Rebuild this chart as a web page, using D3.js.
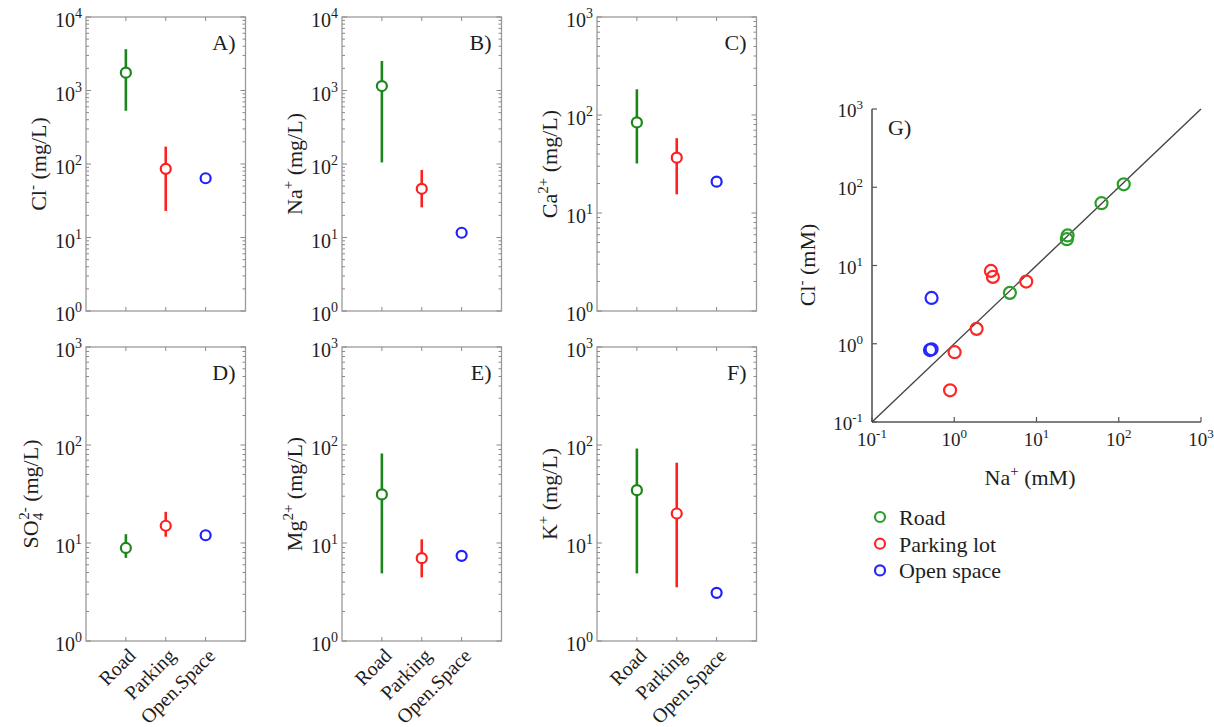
<!DOCTYPE html>
<html>
<head>
<meta charset="utf-8">
<script src="https://cdn.jsdelivr.net/npm/d3@7"></script>
<style>
  body { margin: 0; background: #fff; }
  text { font-family: "Liberation Serif", "Times New Roman", serif; fill: #1e1e1e; }
</style>
</head>
<body>
<svg id="fig" width="1214" height="727"></svg>
<script>
// Site types on the x axis of panels A–F
const categories = ["Road", "Parking", "Open.Space"];

// Concentrations in mg/L per site type: [centre, lower, upper]
const chloride  = [[1750, 530, 3650], [86, 23, 172], [64, null, null]];
const sodium    = [[1150, 105, 2520], [46, 25.7, 83], [11.6, null, null]];
const calcium   = [[84, 32, 183], [36.7, 15.5, 58], [20.9, null, null]];
const sulfate   = [[8.9, 7.05, 12.3], [15, 11.6, 20.8], [12, null, null]];
const magnesium = [[31.3, 4.9, 82], [7.0, 4.46, 10.9], [7.4, null, null]];
const potassium = [[34.6, 4.9, 92], [20, 3.53, 66], [3.1, null, null]];

// Molar Na+ vs Cl- (mM) for the individual samples
const roadNa    = [4.75, 23.4, 23.9, 61.7, 115];
const roadCl    = [4.47, 21.7, 24.2, 62.6, 109];
const parkingNa = [0.89, 1.01, 1.87, 2.79, 2.95, 7.5];
const parkingCl = [0.254, 0.78, 1.55, 8.53, 7.15, 6.24];
const openNa    = [0.53, 0.507, 0.53];
const openCl    = [3.85, 0.83, 0.85];

const legendLabels = ["Road", "Parking lot", "Open space"];
const panelColors = ["#1c861c", "#ff1f1f", "#1f1fff"];
const scatterColors = ["#2a9e2a", "#ff2626", "#2626ff"];

const svg = d3.select("#fig");

// ---------- small-multiple panels A–F ----------
const colX = [86, 342, 597];
const rowY = [[17, 311], [347, 641]];
const panelW = 159.5;

const panels = [
  { letter: "A)", values: chloride,  top: 4, col: 0, row: 0, off: 40,
    label: [["Cl"], ["-", "sup"], [" (mg/L)", "back"]] },
  { letter: "B)", values: sodium,    top: 4, col: 1, row: 0, off: 40,
    label: [["Na"], ["+", "sup"], [" (mg/L)", "back"]] },
  { letter: "C)", values: calcium,   top: 3, col: 2, row: 0, off: 40,
    label: [["Ca"], ["2+", "sup"], [" (mg/L)", "back"]] },
  { letter: "D)", values: sulfate,   top: 3, col: 0, row: 1, off: 48,
    label: [["SO"], ["4", "sub"], ["2-", "supOver"], [" (mg/L)", "back"]] },
  { letter: "E)", values: magnesium, top: 3, col: 1, row: 1, off: 40,
    label: [["Mg"], ["2+", "sup"], [" (mg/L)", "back"]] },
  { letter: "F)", values: potassium, top: 3, col: 2, row: 1, off: 40,
    label: [["K"], ["+", "sup"], [" (mg/L)", "back"]] }
];

function addRichText(textSel, parts, big, small) {
  let lift = 0;
  parts.forEach(([t, kind]) => {
    const ts = textSel.append("tspan").text(t);
    if (kind === "sup") {
      ts.attr("font-size", small).attr("dy", -9); lift = -9;
    } else if (kind === "sub") {
      ts.attr("font-size", small).attr("dy", 5); lift = 5;
    } else if (kind === "supOver") {
      ts.attr("font-size", small).attr("dx", -7).attr("dy", -14); lift = -9;
    } else if (kind === "back") {
      ts.attr("font-size", big).attr("dy", -lift); lift = 0;
    }
  });
}

panels.forEach(p => {
  const x0 = colX[p.col], [y0, y1] = rowY[p.row];
  const x = d3.scaleLinear().domain([0, 4]).range([x0, x0 + panelW]);
  const y = d3.scaleLog().domain([1, Math.pow(10, p.top)]).range([y1, y0]);
  const g = svg.append("g");

  // frame
  g.append("rect").attr("x", x0).attr("y", y0).attr("width", panelW).attr("height", y1 - y0)
    .attr("fill", "none").attr("stroke", "#9a9a9a").attr("stroke-width", 1.3);

  // log ticks on both sides, pointing inward
  const ticks = [];
  for (let d = 0; d <= p.top; d++) {
    ticks.push({ v: Math.pow(10, d), major: true, e: d });
    if (d < p.top) for (let k = 2; k <= 9; k++) ticks.push({ v: k * Math.pow(10, d), major: false });
  }
  ticks.forEach(t => {
    const len = t.major ? 5 : 3;
    g.append("line").attr("x1", x0).attr("x2", x0 + len).attr("y1", y(t.v)).attr("y2", y(t.v))
      .attr("stroke", "#8a8a8a").attr("stroke-width", 1);
    g.append("line").attr("x1", x0 + panelW).attr("x2", x0 + panelW - len).attr("y1", y(t.v)).attr("y2", y(t.v))
      .attr("stroke", "#8a8a8a").attr("stroke-width", 1);
  });
  ticks.filter(t => t.major).forEach(t => {
    const tx = g.append("text").attr("x", x0 - 4).attr("y", y(t.v) + 10)
      .attr("text-anchor", "end").attr("font-size", 20).attr("fill", "#333");
    tx.append("tspan").text("10");
    tx.append("tspan").text(String(t.e)).attr("font-size", 14).attr("dy", -9);
  });

  // category ticks top and bottom
  categories.forEach((c, i) => {
    const cx = x(i + 1);
    g.append("line").attr("x1", cx).attr("x2", cx).attr("y1", y1).attr("y2", y1 - 4)
      .attr("stroke", "#8a8a8a");
    g.append("line").attr("x1", cx).attr("x2", cx).attr("y1", y0).attr("y2", y0 + 4)
      .attr("stroke", "#8a8a8a");
    if (p.row === 1) {
      g.append("text").attr("transform", `translate(${cx + 11},${y1 + 16}) rotate(-45)`)
        .attr("text-anchor", "end").attr("font-size", 20).attr("fill", "#333").text(c);
    }
  });

  // y-axis title
  const lab = g.append("text")
    .attr("transform", `translate(${x0 - p.off},${(y0 + y1) / 2}) rotate(-90)`)
    .attr("text-anchor", "middle").attr("font-size", 22).attr("fill", "#333");
  addRichText(lab, p.label, 22, 15);

  // panel letter
  g.append("text").attr("x", x0 + panelW - 10).attr("y", y0 + 33)
    .attr("text-anchor", "end").attr("font-size", 22).attr("fill", "#111").text(p.letter);

  // ranges and centre markers
  p.values.forEach(([mid, lo, hi], i) => {
    const cx = x(i + 1);
    if (lo != null && hi != null) {
      g.append("line").attr("x1", cx).attr("x2", cx).attr("y1", y(lo)).attr("y2", y(hi))
        .attr("stroke", panelColors[i]).attr("stroke-width", 2.6);
    }
    g.append("circle").attr("cx", cx).attr("cy", y(mid)).attr("r", 5)
      .attr("fill", "#fff").attr("stroke", panelColors[i]).attr("stroke-width", 2.2);
  });
});

// ---------- panel G: Cl- vs Na+ (mM) ----------
const gx = d3.scaleLog().domain([0.1, 1000]).range([872, 1201]);
const gy = d3.scaleLog().domain([0.1, 1000]).range([422, 109]);
const gG = svg.append("g");
const decades = [0.1, 1, 10, 100, 1000];
const decadeExp = ["-1", "0", "1", "2", "3"];

gG.append("line").attr("x1", gx(0.1)).attr("x2", gx(0.1)).attr("y1", gy(0.1)).attr("y2", gy(1000))
  .attr("stroke", "#555").attr("stroke-width", 1.6);
gG.append("line").attr("x1", gx(0.1)).attr("x2", gx(1000)).attr("y1", gy(0.1)).attr("y2", gy(0.1))
  .attr("stroke", "#555").attr("stroke-width", 1.6);

decades.forEach((v, i) => {
  gG.append("line").attr("x1", gx(v)).attr("x2", gx(v)).attr("y1", gy(0.1)).attr("y2", gy(0.1) - 5)
    .attr("stroke", "#555").attr("stroke-width", 1.2);
  gG.append("line").attr("x1", gx(0.1)).attr("x2", gx(0.1) + 5).attr("y1", gy(v)).attr("y2", gy(v))
    .attr("stroke", "#555").attr("stroke-width", 1.2);
  const tx = gG.append("text").attr("x", gx(v)).attr("y", gy(0.1) + 24)
    .attr("text-anchor", "middle").attr("font-size", 19).attr("fill", "#333");
  tx.append("tspan").text("10");
  tx.append("tspan").text(decadeExp[i]).attr("font-size", 13).attr("dy", -8);
  const ty = gG.append("text").attr("x", gx(0.1) - 9).attr("y", gy(v) + 8)
    .attr("text-anchor", "end").attr("font-size", 19).attr("fill", "#333");
  ty.append("tspan").text("10");
  ty.append("tspan").text(decadeExp[i]).attr("font-size", 13).attr("dy", -8);
});

// 1:1 reference line
gG.append("line").attr("x1", gx(0.1)).attr("y1", gy(0.1)).attr("x2", gx(1000)).attr("y2", gy(1000))
  .attr("stroke", "#444").attr("stroke-width", 1.4);

const groups = [[roadNa, roadCl], [parkingNa, parkingCl], [openNa, openCl]];
groups.forEach(([na, cl], gi) => {
  gG.selectAll(null).data(d3.zip(na, cl)).enter().append("circle")
    .attr("cx", d => gx(d[0])).attr("cy", d => gy(d[1])).attr("r", 6)
    .attr("fill", "none").attr("stroke", scatterColors[gi]).attr("stroke-width", 2.2);
});

gG.append("text").attr("x", 888).attr("y", 135).attr("font-size", 22).attr("fill", "#111").text("G)");

const gxl = gG.append("text").attr("x", 1030).attr("y", 485).attr("text-anchor", "middle")
  .attr("font-size", 22).attr("fill", "#333");
addRichText(gxl, [["Na"], ["+", "sup"], [" (mM)", "back"]], 22, 15);

const gyl = gG.append("text").attr("transform", `translate(815,265) rotate(-90)`)
  .attr("text-anchor", "middle").attr("font-size", 22).attr("fill", "#333");
addRichText(gyl, [["Cl"], ["-", "sup"], [" (mM)", "back"]], 22, 15);

// legend
legendLabels.forEach((t, i) => {
  const ly = 517 + i * 26.7;
  gG.append("circle").attr("cx", 880).attr("cy", ly).attr("r", 5)
    .attr("fill", "none").attr("stroke", scatterColors[i]).attr("stroke-width", 2.2);
  gG.append("text").attr("x", 899).attr("y", ly + 8).attr("font-size", 22).attr("fill", "#1e1e1e").text(t);
});
</script>
</body>
</html>
